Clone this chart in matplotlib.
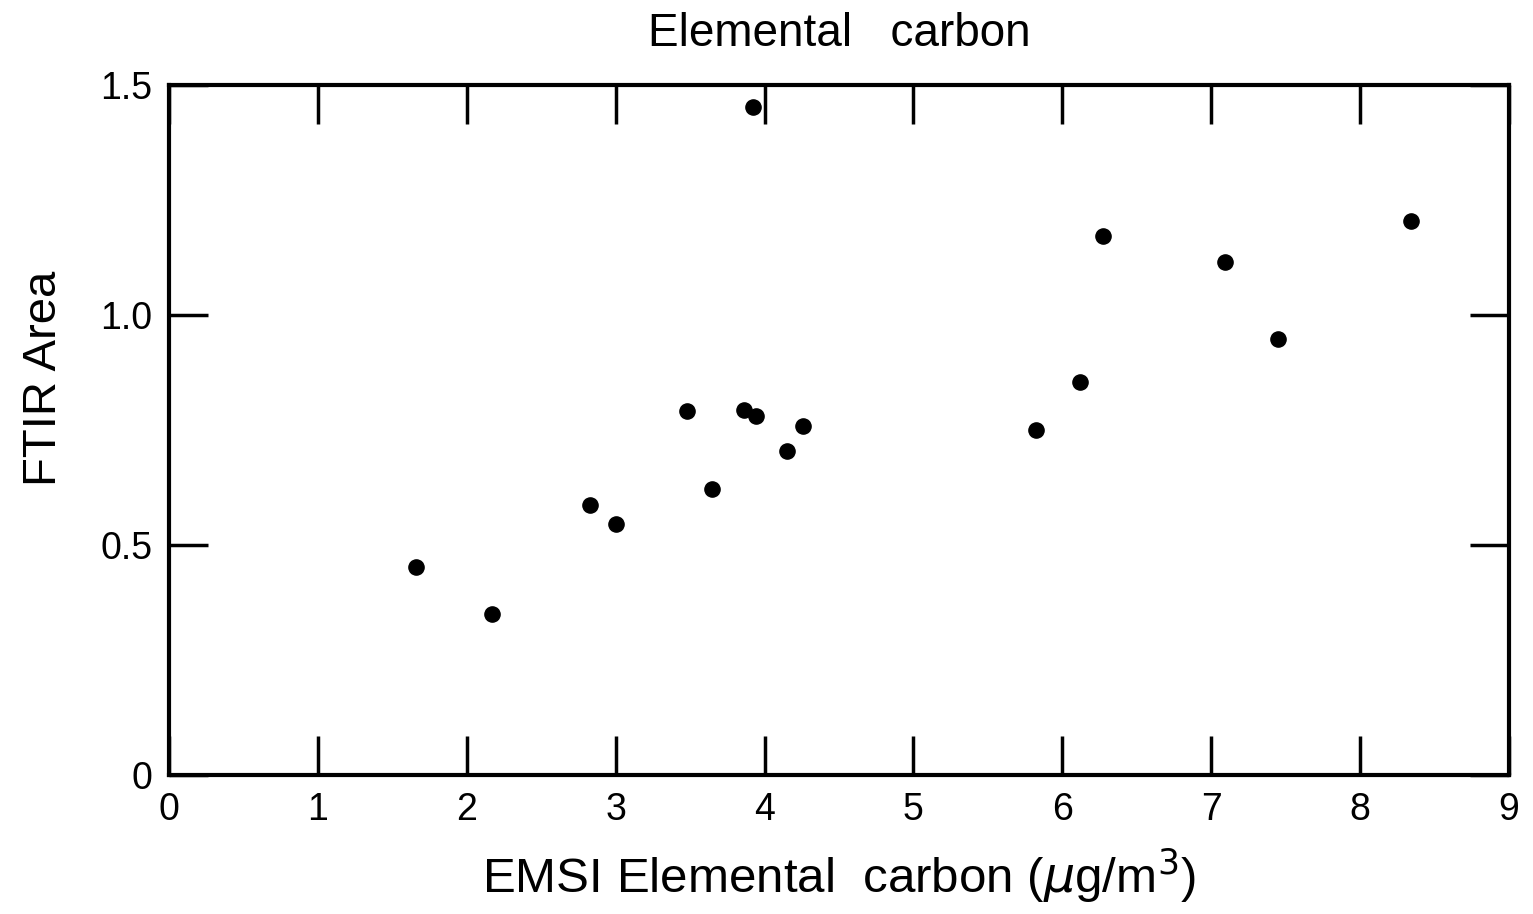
import matplotlib
matplotlib.use("Agg")
import matplotlib.pyplot as plt

plt.rcParams['font.family'] = ['Liberation Sans', 'DejaVu Sans']

# EMSI elemental carbon (ug/m3) vs FTIR area
emsi_ec = [1.66, 2.17, 2.83, 3.00, 3.48, 3.65, 3.86, 3.92, 3.94, 4.15,
           4.26, 5.82, 6.12, 6.27, 7.09, 7.45, 8.34]
ftir_area = [0.452, 0.350, 0.587, 0.546, 0.791, 0.622, 0.793, 1.452, 0.780, 0.704,
             0.759, 0.750, 0.854, 1.172, 1.115, 0.948, 1.204]

x_ticks = [0, 1, 2, 3, 4, 5, 6, 7, 8, 9]
y_ticks = [0, 0.5, 1.0, 1.5]
y_labels = ['0', '0.5', '1.0', '1.5']

fig = plt.figure(figsize=(15.33, 9.14), dpi=100)
ax = fig.add_axes([169 / 1533, 1 - 775 / 914, (1509 - 169) / 1533, (775 - 85) / 914])

ax.scatter(emsi_ec, ftir_area, s=120, color='black', zorder=3, clip_on=False)

ax.set_xlim(0, 9)
ax.set_ylim(0, 1.5)
ax.set_xticks(x_ticks)
ax.set_yticks(y_ticks)
ax.set_yticklabels(y_labels)

ax.tick_params(direction='in', length=28, width=2.5, top=True, right=True,
               labelsize=27, pad=12)
for spine in ax.spines.values():
    spine.set_linewidth(3)

ax.set_title('Elemental   carbon', fontsize=33, pad=28)
ax.set_xlabel('EMSI Elemental  carbon ($\\mu$g/m$^3$)', fontsize=35.5, labelpad=13)
ax.set_ylabel('FTIR Area', fontsize=34)
ax.yaxis.set_label_coords(-0.077, 0.575)

fig.savefig('out.png', dpi=100)
